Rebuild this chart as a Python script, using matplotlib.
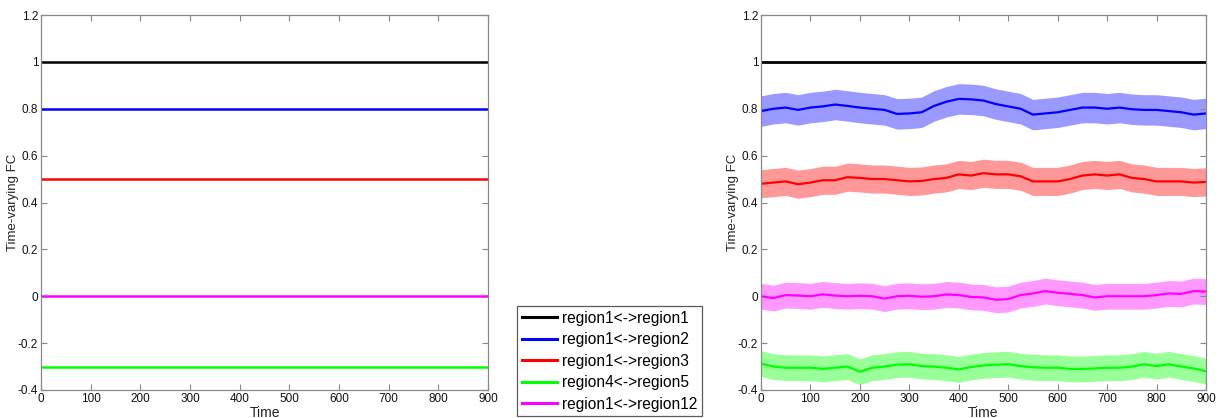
import numpy as np
import matplotlib
matplotlib.use("Agg")
import matplotlib.pyplot as plt

plt.rcParams['font.family'] = ['Liberation Sans', 'DejaVu Sans']

# Time grid for the sliding-window estimates
time = np.arange(0, 901, 25)

labels = ["region1<->region1", "region1<->region2", "region1<->region3",
          "region4<->region5", "region1<->region12"]

# Ground-truth connectivity (left panel)
true_fc = [1.0, 0.8, 0.5, -0.3, 0.0]

# Estimated mean connectivity (right panel)
est_r1_r1 = [1.0] * 37
est_r1_r2 = [0.790, 0.800, 0.805, 0.795, 0.805, 0.810, 0.818, 0.812, 0.805, 0.800,
             0.795, 0.778, 0.780, 0.785, 0.812, 0.830, 0.842, 0.840, 0.835, 0.820,
             0.810, 0.800, 0.775, 0.780, 0.785, 0.795, 0.805, 0.805, 0.800, 0.805,
             0.798, 0.795, 0.795, 0.790, 0.785, 0.775, 0.780]
est_r1_r3 = [0.480, 0.485, 0.490, 0.478, 0.485, 0.495, 0.495, 0.508, 0.505, 0.500,
             0.500, 0.495, 0.490, 0.492, 0.500, 0.505, 0.520, 0.515, 0.525, 0.520,
             0.520, 0.512, 0.490, 0.490, 0.490, 0.500, 0.515, 0.520, 0.515, 0.520,
             0.505, 0.500, 0.490, 0.490, 0.490, 0.485, 0.488]
est_r4_r5 = [-0.287, -0.300, -0.305, -0.305, -0.305, -0.310, -0.305, -0.300, -0.322, -0.305,
             -0.300, -0.292, -0.290, -0.298, -0.300, -0.305, -0.312, -0.302, -0.295, -0.292,
             -0.290, -0.298, -0.303, -0.305, -0.305, -0.310, -0.310, -0.308, -0.305, -0.305,
             -0.300, -0.290, -0.298, -0.290, -0.300, -0.308, -0.320]
est_r1_r12 = [0.000, -0.008, 0.005, 0.003, 0.000, 0.008, 0.003, 0.000, 0.002, 0.000,
              -0.010, 0.000, 0.002, -0.002, 0.000, 0.008, 0.005, -0.003, -0.005, -0.015,
              -0.012, 0.005, 0.012, 0.022, 0.015, 0.010, 0.005, -0.005, 0.000, 0.000,
              0.000, 0.000, 0.005, 0.012, 0.010, 0.022, 0.020]

# Half-width of the spread band around each estimate
band_half = [0.0, 0.065, 0.06, 0.055, 0.055]

line_colors = ["#000000", "#0000FF", "#FF0000", "#00FF00", "#FF00FF"]
band_colors = [None, "#9999FF", "#FF9999", "#99FF99", "#FF99FF"]

estimates = [est_r1_r1, est_r1_r2, est_r1_r3, est_r4_r5, est_r1_r12]

fig = plt.figure(figsize=(12.25, 4.18), dpi=100)
ax_l = fig.add_axes([41 / 1225, 1 - 390 / 418, 447 / 1225, 375 / 418])
ax_r = fig.add_axes([761 / 1225, 1 - 390 / 418, 445 / 1225, 375 / 418])


def style(ax):
    ax.set_xlim(0, 900)
    ax.set_ylim(-0.4, 1.2)
    ax.set_xticks(np.arange(0, 901, 100))
    ax.set_yticks([-0.4, -0.2, 0, 0.2, 0.4, 0.6, 0.8, 1.0, 1.2])
    ax.set_yticklabels(["-0.4", "-0.2", "0", "0.2", "0.4", "0.6", "0.8", "1", "1.2"])
    ax.tick_params(direction="in", top=True, right=True, length=4, width=0.8,
                   labelsize=8.5, colors="#888888", labelcolor="#111111", pad=2)
    for s in ax.spines.values():
        s.set_color("#888888")
        s.set_linewidth(0.9)
    ax.set_xlabel("Time", fontsize=10, color="#222222", labelpad=1)
    ax.set_ylabel("Time-varying FC", fontsize=9.5, color="#222222", labelpad=-1)


handles = []
for lab, val, c in zip(labels, true_fc, line_colors):
    h, = ax_l.plot([0, 900], [val, val], color=c, lw=1.8, label=lab)
    handles.append(h)
style(ax_l)

for est, hw, c, bc in zip(estimates, band_half, line_colors, band_colors):
    est = np.asarray(est)
    if bc is not None:
        ax_r.fill_between(time, est - hw, est + hw, color=bc, lw=0)
    ax_r.plot(time, est, color=c, lw=1.6 if bc else 2.0)
style(ax_r)

leg = fig.legend(handles=handles, loc="upper left",
                 bbox_to_anchor=(517 / 1225, 1 - 306 / 418),
                 fontsize=11.2, frameon=True, fancybox=False,
                 handlelength=2.25, handletextpad=0.35, borderpad=0.3,
                 labelspacing=0.42, borderaxespad=0)
leg.get_frame().set_edgecolor("#333333")
leg.get_frame().set_linewidth(0.9)
for lh in leg.get_lines():
    lh.set_linewidth(2.2)

fig.savefig("out.png", dpi=100)
